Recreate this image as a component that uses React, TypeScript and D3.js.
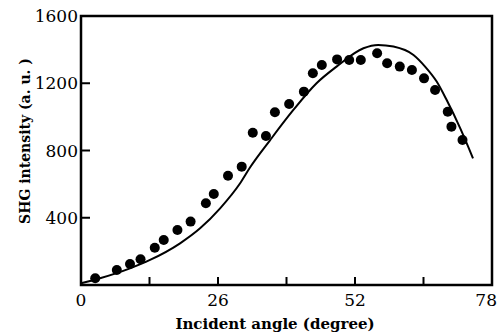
import * as d3 from 'd3';

// measured points (incident angle in degrees, SHG intensity a.u.)
const angles = [2.7, 6.8, 9.3, 11.3, 14.0, 15.7, 18.3, 20.8, 23.7, 25.2, 27.9, 30.5, 32.6, 35.1, 36.8, 39.5, 42.3, 44.0, 45.7, 48.6, 50.9, 53.1, 56.2, 58.1, 60.5, 62.8, 65.1, 67.2, 69.6, 70.3, 72.4];
const intensities = [40, 89, 125, 153, 222, 268, 327, 377, 486, 541, 650, 704, 906, 886, 1027, 1077, 1150, 1259, 1309, 1342, 1338, 1338, 1378, 1319, 1299, 1279, 1229, 1160, 1031, 942, 862];

// fitted curve
const fitAngles = [0, 3.6, 9.3, 13.1, 18.8, 22.6, 26.4, 30.2, 32.1, 35.9, 40.3, 44.7, 48.5, 53.6, 56.4, 59.3, 63.1, 65.3, 67.5, 69.4, 72.0, 74.4];
const fitValues = [10, 40, 99, 149, 248, 337, 456, 605, 700, 862, 1041, 1200, 1299, 1408, 1428, 1418, 1368, 1299, 1210, 1100, 930, 753];

const xTicks = [0, 13, 26, 39, 52, 65, 78];
const xLabels = [0, 26, 52, 78];
const yTicks = [400, 800, 1200, 1600];

const W = 498, H = 336;
const left = 81, right = 492, top = 16, bottom = 285;

export default function App() {
  const x = d3.scaleLinear().domain([0, 78]).range([left, right]);
  const y = d3.scaleLinear().domain([0, 1600]).range([bottom, top]);

  const fit = fitAngles.map((a, i) => [a, fitValues[i]] as [number, number]);
  const line = d3.line<[number, number]>()
    .x(d => x(d[0]))
    .y(d => y(d[1]))
    .curve(d3.curveMonotoneX);

  const font = '"DejaVu Serif", serif';

  return (
    <svg width={W} height={H} style={{ position: 'absolute', left: 0, top: 0, background: '#fff' }}>
      <path d={line(fit) || ''} fill="none" stroke="#000" strokeWidth={2} />
      {angles.map((a, i) => (
        <circle key={i} cx={x(a)} cy={y(intensities[i])} r={5} fill="#000" />
      ))}
      <rect x={left} y={top} width={right - left} height={bottom - top} fill="none" stroke="#000" strokeWidth={2.5} />
      {xTicks.slice(1, -1).map(t => (
        <line key={t} x1={x(t)} x2={x(t)} y1={bottom} y2={bottom - 8} stroke="#000" strokeWidth={2} />
      ))}
      {yTicks.slice(0, -1).map(t => (
        <line key={t} x1={left} x2={left + 9} y1={y(t)} y2={y(t)} stroke="#000" strokeWidth={2} />
      ))}
      {xLabels.map(t => (
        <text key={t} x={t === 78 ? W - 1 : x(t)} y={306} textAnchor={t === 78 ? 'end' : 'middle'}
          fontFamily={font} fontSize={17} fill="#000">{t}</text>
      ))}
      {yTicks.map(t => (
        <text key={t} x={78} y={y(t) + 6} textAnchor="end" fontFamily={font} fontSize={17} fill="#000">{t}</text>
      ))}
      <text x={275} y={329} textAnchor="middle" fontFamily={font} fontSize={15} fontWeight="bold" fill="#000">Incident angle (degree)</text>
      <text transform="translate(30,141) rotate(-90)" textAnchor="middle" fontFamily={font} fontSize={14} fontWeight="bold" fill="#000">SHG intensity (a. u. )</text>
    </svg>
  );
}
